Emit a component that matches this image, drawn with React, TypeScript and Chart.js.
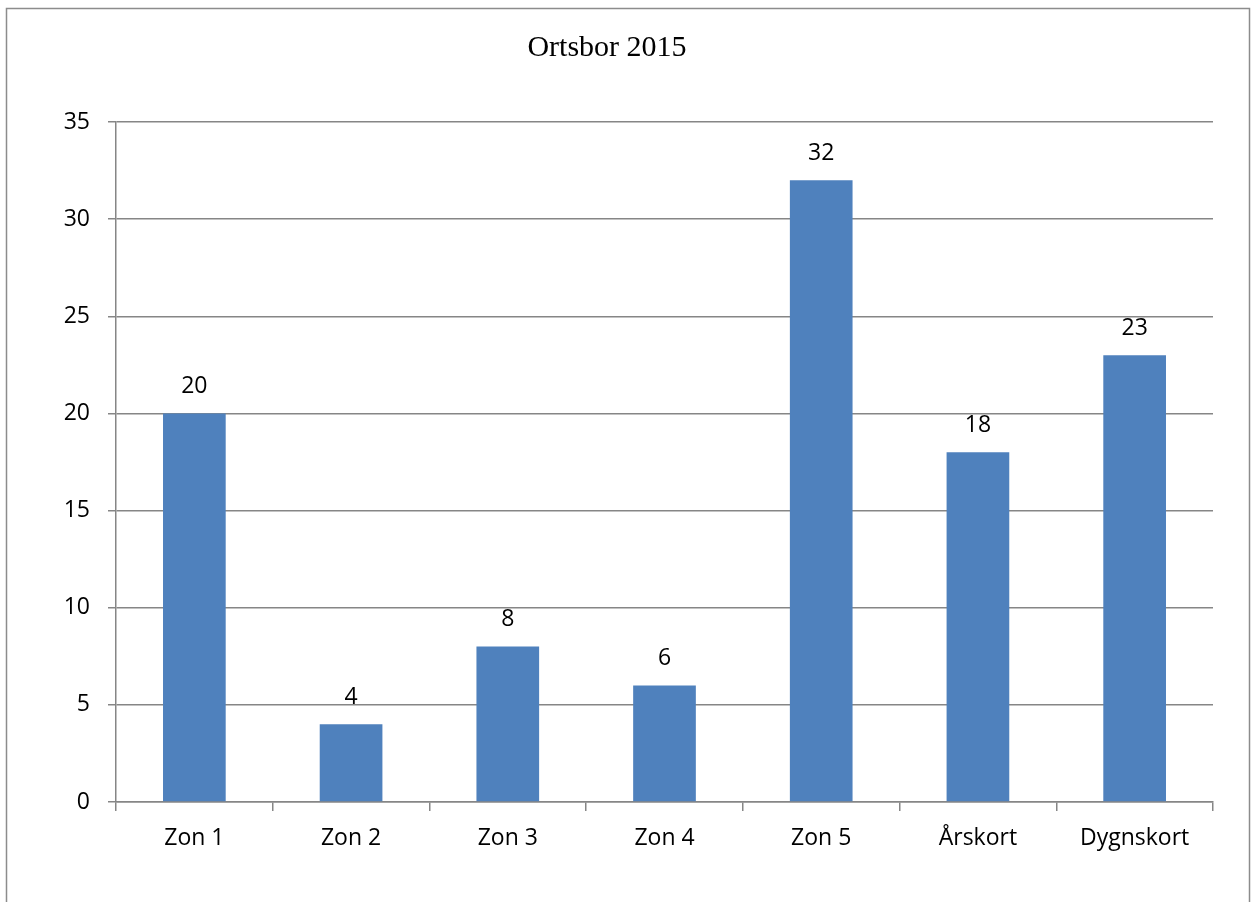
import React, { useEffect, useRef } from "react";
import { Chart, registerables } from "chart.js";

Chart.register(...registerables);

const TITLE = "Ortsbor 2015";
const categories = ["Zon 1", "Zon 2", "Zon 3", "Zon 4", "Zon 5", "Årskort", "Dygnskort"];
const values = [20, 4, 8, 6, 32, 18, 23];
const yTicks = [0, 5, 10, 15, 20, 25, 30, 35];

const FONT = "'Open Sans', 'Noto Sans', sans-serif";
const GRID = "#868686";
const BAR = "#4F81BD";

const framePlugin = {
  id: "frame",
  beforeDraw(chart: any) {
    const ctx = chart.ctx;
    ctx.save();
    ctx.fillStyle = "#ffffff";
    ctx.fillRect(0, 0, chart.width, chart.height);
    ctx.strokeStyle = "#8c8c8c";
    ctx.lineWidth = 1.5;
    ctx.strokeRect(6.5, 8.5, 1243, 1000);
    ctx.fillStyle = "#000";
    ctx.font = "30px 'Liberation Serif', 'Times New Roman', serif";
    ctx.textAlign = "center";
    ctx.textBaseline = "middle";
    ctx.fillText(TITLE, 607, 48);
    ctx.restore();
  },
  afterDatasetsDraw(chart: any) {
    const ctx = chart.ctx;
    const meta = chart.getDatasetMeta(0);
    ctx.save();
    ctx.fillStyle = "#000";
    ctx.font = `23px ${FONT}`;
    ctx.textAlign = "center";
    ctx.textBaseline = "middle";
    meta.data.forEach((el: any, i: number) => {
      ctx.fillText(String(values[i]), el.x, el.y - 27);
    });
    ctx.restore();
  },
};

export default function App() {
  const ref = useRef<HTMLCanvasElement>(null);
  useEffect(() => {
    if (!ref.current) return;
    const chart = new Chart(ref.current, {
      type: "bar",
      data: {
        labels: categories,
        datasets: [
          {
            data: values,
            backgroundColor: BAR,
            categoryPercentage: 1,
            barPercentage: 0.4,
          },
        ],
      },
      options: {
        animation: false,
        responsive: false,
        maintainAspectRatio: false,
        layout: { padding: { left: 0, right: 39, top: 122, bottom: 0 } },
        plugins: {
          legend: { display: false },
          title: { display: false },
          tooltip: { enabled: false },
        },
        scales: {
          x: {
            offset: true,
            grid: {
              offset: true,
              drawOnChartArea: false,
              drawTicks: true,
              tickLength: 9,
              color: GRID,
              lineWidth: 1.5,
            },
            border: { color: GRID, width: 1.5 },
            ticks: {
              color: "#000",
              font: { family: FONT, size: 23 },
              padding: 14,
              maxRotation: 0,
            },
            afterFit(scale: any) {
              scale.height = 100;
            },
          },
          y: {
            min: 0,
            max: 35,
            afterBuildTicks(scale: any) {
              scale.ticks = yTicks.map((v) => ({ value: v }));
            },
            grid: {
              color: GRID,
              lineWidth: 1.5,
              drawTicks: true,
              tickLength: 8,
            },
            border: { color: GRID, width: 1.5 },
            ticks: {
              color: "#000",
              font: { family: FONT, size: 23 },
              padding: 18,
            },
            afterFit(scale: any) {
              scale.width = 116;
            },
          },
        },
      },
      plugins: [framePlugin],
    });
    return () => chart.destroy();
  }, []);
  return (
    <div style={{ position: "fixed", left: 0, top: 0, width: 1252, height: 902 }}>
      <canvas ref={ref} width={1252} height={902} style={{ display: "block" }} />
    </div>
  );
}
